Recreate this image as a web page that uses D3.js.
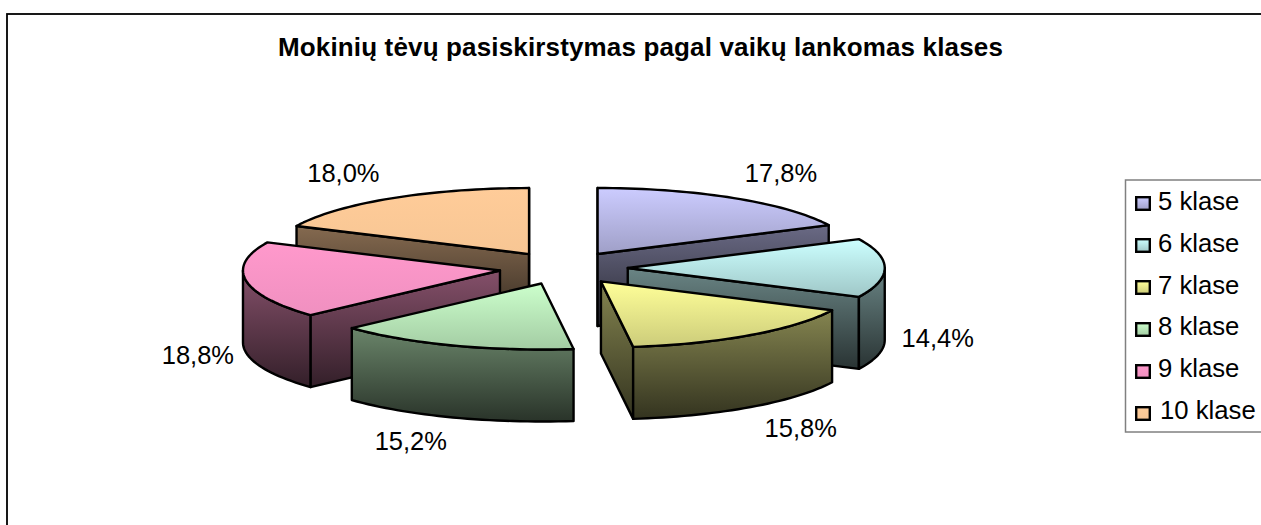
<!DOCTYPE html>
<html><head><meta charset="utf-8">
<script src="https://cdn.jsdelivr.net/npm/d3@7"></script>
<style>html,body{margin:0;padding:0;background:#fff;overflow:hidden}svg{display:block}
text{font-family:"Liberation Sans",Arial,sans-serif;fill:#000}</style></head><body>
<svg id="c" width="1261" height="525"></svg>
<script>
const categories = ["5 klase","6 klase","7 klase","8 klase","9 klase","10 klase"];
const shares = [17.8,14.4,15.8,15.2,18.8,18.0];
const shareLabels = ["17,8%","14,4%","15,8%","15,2%","18,8%","18,0%"];
const colors = ["#CCCCFF","#CCFFFF","#FFFF99","#CCFFCC","#FF99CC","#FFCC99"];
const titleText = "Mokinių tėvų pasiskirstymas pagal vaikų lankomas klases";

const cx=563.5, cy=268, rx=257, ry=66, depth=72, explode=0.25;
const labelNudgeX=[-1,5,2,6,0,0], labelNudgeY=[0,0,-1,-3,0,0];
const svg=d3.select("#c"), defs=svg.append("defs");
const X=d3.scaleLinear().domain([-1,1]).range([-rx,rx]);
const Y=d3.scaleLinear().domain([-1,1]).range([ry,-ry]);
const shade=(c,k)=>{const q=d3.rgb(c);return d3.rgb(q.r*k,q.g*k,q.b*k).formatHex();};
function grad(id,a,b){
  const g=defs.append("linearGradient").attr("id",id).attr("x1",0).attr("y1",0).attr("x2",0).attr("y2",1);
  g.append("stop").attr("offset",0).attr("stop-color",a);
  g.append("stop").attr("offset",1).attr("stop-color",b);
}
const topEnd=[.78,.78,.8,.8,.94,.97];
colors.forEach((c,i)=>{
  grad("t"+i,c,shade(c,topEnd[i]));
  grad("w"+i,shade(c,.52),shade(c,.2));
});

svg.append("rect").attr("x",7).attr("y",14).attr("width",1300).attr("height",560)
  .attr("fill","#fff").attr("stroke","#000").attr("stroke-width",1.8);
svg.append("text").attr("x",640.5).attr("y",56).attr("text-anchor","middle")
  .attr("font-weight","bold").attr("font-size",26).attr("letter-spacing",".15").text(titleText);

const pie=d3.pie().sort(null).value(d=>d).startAngle(0).endAngle(2*Math.PI);
const arcs=pie(shares).map((a,i)=>{
  const mid=(a.startAngle+a.endAngle)/2;
  return {i,a0:a.startAngle,a1:a.endAngle,mid,
    ox:cx+X(explode*Math.sin(mid)),oy:cy+Y(explode*Math.cos(mid))};
});
const line=d3.line();
const pt=(s,t,dz=0)=>[s.ox+X(Math.sin(t)),s.oy+Y(Math.cos(t))+dz];
const samples=(a,b)=>{const n=Math.max(2,Math.ceil((b-a)/0.03));return d3.range(n+1).map(k=>a+(b-a)*k/n);};

const order=arcs.slice().sort((p,q)=>Math.cos(q.mid)-Math.cos(p.mid));
const gs=svg.append("g").attr("stroke","#000").attr("stroke-width",2.4).attr("stroke-linejoin","round");
order.forEach(s=>{
  const g=gs.append("g");
  const wall=`url(#w${s.i})`;
  const face=(t)=>{
    const p=pt(s,t),o=[s.ox,s.oy];
    g.append("path").attr("fill",wall)
      .attr("d",line([o,p,[p[0],p[1]+depth],[o[0],o[1]+depth]])+"Z");
  };
  const front=n=>Math.cos(n)<1e-9;
  if(front(s.a0-Math.PI/2)) face(s.a0);
  if(front(s.a1+Math.PI/2)) face(s.a1);
  const lo=Math.max(s.a0,Math.PI/2), hi=Math.min(s.a1,1.5*Math.PI);
  if(hi>lo){
    const ts=samples(lo,hi);
    g.append("path").attr("fill",wall)
      .attr("d",line(ts.map(t=>pt(s,t)).concat(ts.slice().reverse().map(t=>pt(s,t,depth))))+"Z");
  }
  g.append("path").attr("fill",`url(#t${s.i})`)
    .attr("d",line([[s.ox,s.oy]].concat(samples(s.a0,s.a1).map(t=>pt(s,t))))+"Z");
});

arcs.forEach(s=>{
  const p=pt(s,s.mid), c=Math.cos(s.mid);
  svg.append("text").attr("text-anchor","middle").attr("dy",".35em").attr("font-size",25.5)
    .attr("x",p[0]+(Math.sin(s.mid)>0?48:-48)+labelNudgeX[s.i])
    .attr("y",p[1]+(c>0?-25:70-30*c)+labelNudgeY[s.i])
    .text(shareLabels[s.i]);
});

const lg=svg.append("g");
lg.append("rect").attr("x",1125.5).attr("y",180).attr("width",200).attr("height",252)
  .attr("fill","#fff").attr("stroke","#808080").attr("stroke-width",1.5);
const rowY=d3.scalePoint().domain(categories).range([201,410]);
const swatchY=d3.scalePoint().domain(categories).range([203.5,413.5]);
categories.forEach((c,i)=>{
  lg.append("rect").attr("x",1136.2).attr("y",swatchY(c)-6.3).attr("width",13.6).attr("height",12.6)
    .attr("fill",`url(#t${i})`).attr("stroke","#000").attr("stroke-width",2.4);
  lg.append("text").attr("x",i===5?1160:1158).attr("y",rowY(c)).attr("dy",".35em").attr("font-size",25.7).text(c);
});
</script></body></html>
